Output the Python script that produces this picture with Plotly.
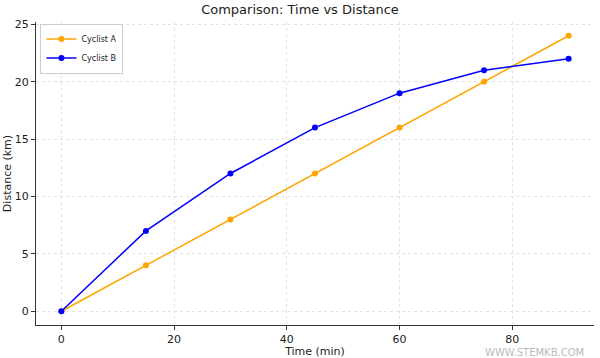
import plotly.graph_objects as go

time_min = [0, 15, 30, 45, 60, 75, 90]
cyclist_a = [0, 4, 8, 12, 16, 20, 24]
cyclist_b = [0, 7, 12, 16, 19, 21, 22]
x_ticks = [0, 20, 40, 60, 80]
y_ticks = [0, 5, 10, 15, 20, 25]

fig = go.Figure()
fig.add_trace(go.Scatter(x=time_min, y=cyclist_a, mode="lines+markers", name="Cyclist A",
                         line=dict(color="orange", width=1.5), marker=dict(size=6, color="orange")))
fig.add_trace(go.Scatter(x=time_min, y=cyclist_b, mode="lines+markers", name="Cyclist B",
                         line=dict(color="blue", width=1.5), marker=dict(size=6, color="blue")))

axis_common = dict(showgrid=True, gridcolor="#e2e2e2", griddash="dot", gridwidth=1,
                   zeroline=False, showline=True, linecolor="#333333", linewidth=1.2,
                   ticks="outside", ticklen=4, tickcolor="#333333", automargin=False,
                   tickfont=dict(size=11, color="#222222"))

fig.update_layout(
    width=600, height=358,
    margin=dict(l=36, r=6, t=22, b=33),
    paper_bgcolor="white", plot_bgcolor="white",
    font=dict(family="DejaVu Sans", color="#222222"),
    title=dict(text="Comparison: Time vs Distance", x=0.5, xanchor="center", y=0.985, yanchor="top",
               font=dict(size=13)),
    xaxis=dict(range=[-4.5, 94.5], tickvals=x_ticks,
               title=dict(text="Time (min)", font=dict(size=11), standoff=0), **axis_common),
    yaxis=dict(range=[-1.2, 25.2], tickvals=y_ticks,
               title=dict(text="Distance (km)", font=dict(size=11), standoff=0), **axis_common),
    legend=dict(x=0.008, y=0.995, xanchor="left", yanchor="top", bgcolor="rgba(255,255,255,0.8)",
                bordercolor="#cccccc", borderwidth=1, font=dict(size=8), itemwidth=30,
                tracegroupgap=0),
    showlegend=True,
)
fig.add_annotation(text="WWW.STEMKB.COM", xref="paper", yref="paper", x=0.985, y=-0.065,
                   xanchor="right", yanchor="top", showarrow=False,
                   font=dict(size=10, color="#bbbbbb"))
fig.write_html("out.html", config={"displayModeBar": False},
               post_script="document.body.style.margin='0';document.body.style.overflow='hidden';")
